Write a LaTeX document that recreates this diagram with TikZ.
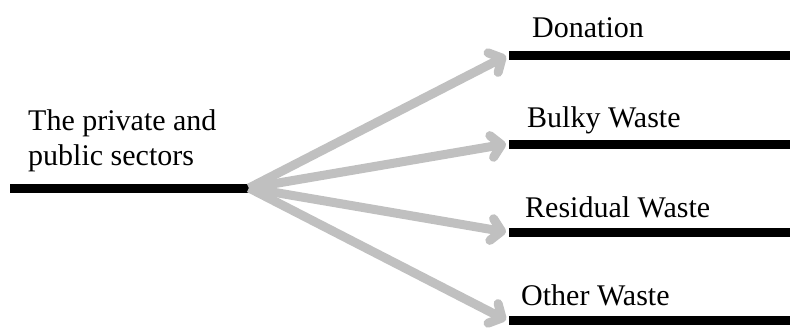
\documentclass[tikz,border=0pt]{standalone}
\usepackage{fontspec}
\setmainfont{Liberation Serif}
\usetikzlibrary{arrows.meta}
\definecolor{arrowgray}{RGB}{192,192,192}

\begin{document}
\begin{tikzpicture}[x=1pt,y=-1pt,
    bar/.style={line width=9pt},
    flow/.style={line width=9pt, arrowgray, -{Straight Barb[length=10pt,width=22pt,round]}},
    label/.style={anchor=base west, inner sep=0pt, font=\fontsize{30}{35}\selectfont}]
    \useasboundingbox (0,0) rectangle (790,329);

    % Sectors.
    \coordinate (sectors start) at (10,188);
    \coordinate (sectors) at (249,188);
    \draw [bar] (sectors start) -- (sectors);
    \node [label] (sectors top) at (28,130) {The private and};
    \node [label] (sectors bottom) at (28,165) {public sectors};

    % Destinations.
    \coordinate (donation) at (509,56);
    \coordinate (donation end) at (790,56);
    \coordinate (bulky) at (509,144);
    \coordinate (bulky end) at (790,144);
    \coordinate (residual) at (509,232);
    \coordinate (residual end) at (790,232);
    \coordinate (other) at (509,320);
    \coordinate (other end) at (790,320);
    \draw [bar] (donation) -- (donation end);
    \draw [bar] (bulky) -- (bulky end);
    \draw [bar] (residual) -- (residual end);
    \draw [bar] (other) -- (other end);
    \node [label] (donation text) at (532,38) {Donation};
    \node [label] (bulky text) at (527,128) {Bulky Waste};
    \node [label] (residual text) at (525,217) {Residual Waste};
    \node [label] (other text) at (521,305) {Other Waste};

    % Arrows from sectors to destinations.
    \draw [flow] (sectors) -- ([xshift=-3pt]donation);
    \draw [flow] (sectors) -- ([xshift=-3pt]bulky);
    \draw [flow] (sectors) -- ([xshift=-3pt]residual);
    \draw [flow] (sectors) -- ([xshift=-3pt]other);

\end{tikzpicture}
\end{document}
